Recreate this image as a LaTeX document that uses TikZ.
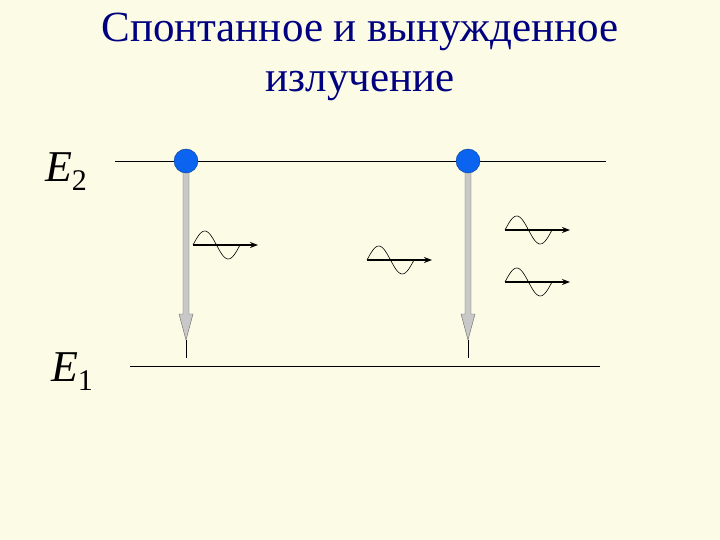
\documentclass[tikz,border=0pt]{standalone}
\usepackage{fontspec}
\setmainfont{Liberation Serif}
\usetikzlibrary{arrows.meta}
\definecolor{bg}{HTML}{FBFBE6}
\definecolor{title}{HTML}{000080}
\definecolor{dot}{HTML}{0A64F0}
\definecolor{shaft}{HTML}{C8C8C8}
\tikzset{
 level/.style={line width=0.8pt},
 atom/.style={circle,fill=dot,draw=dot!60!black,inner sep=0pt,minimum size=24pt},
 lbl/.style={font=\fontsize{44}{44}\selectfont},
 ttl/.style={font=\fontsize{43}{50}\selectfont,text=title,align=center},
 wave/.style={line width=0.6pt},
 ray/.style={line width=1.4pt,-{Stealth[length=8pt,width=6pt]}}
}
\newcommand{\photon}[3]{%
 \coordinate (#3s) at (#1,#2); \coordinate (#3e) at (#1+65,#2);
 \draw[wave] plot[domain=0:47,samples=40,smooth] ({#1+\x},{#2-14*sin(\x/47*360)});
 \draw[ray] (#3s) -- (#3e);}
\begin{document}
\begin{tikzpicture}[x=1pt,y=-1pt]
\fill[bg] (0,0) rectangle (720,540);
\useasboundingbox (0,0) rectangle (720,540);
\node[ttl] (t) at (360,57) {Спонтанное и вынужденное\\излучение};
\node[lbl] (e2) at (66,172) {\textit{E}\raisebox{-9pt}{\fontsize{30}{30}\selectfont 2}};
\node[lbl] (e1) at (72,372) {\textit{E}\raisebox{-9pt}{\fontsize{30}{30}\selectfont 1}};
\coordinate (l2a) at (115,161); \coordinate (l2b) at (606,161);
\coordinate (l1a) at (130,366); \coordinate (l1b) at (600,366);
\draw[level] (l2a) -- (l2b);
\draw[level] (l1a) -- (l1b);
\foreach \x/\n in {186/a,468/b}{
 \coordinate (\n top) at (\x,170);
 \coordinate (\n tip) at (\x,358);
 \fill[shaft,draw=black!60,line width=0.4pt] (\x-3,170) -- (\x-3,314) -- (\x-7,314) -- (\x,340) -- (\x+7,314) -- (\x+3,314) -- (\x+3,170) -- cycle;
 \draw[line width=0.8pt] (\x,340) -- (\n tip);
 \node[atom] (\n) at (\x,161) {};
}
\photon{193}{245}{p1}
\photon{367}{260}{p2}
\photon{505}{230}{p3}
\photon{505}{282}{p4}
\end{tikzpicture}
\end{document}
